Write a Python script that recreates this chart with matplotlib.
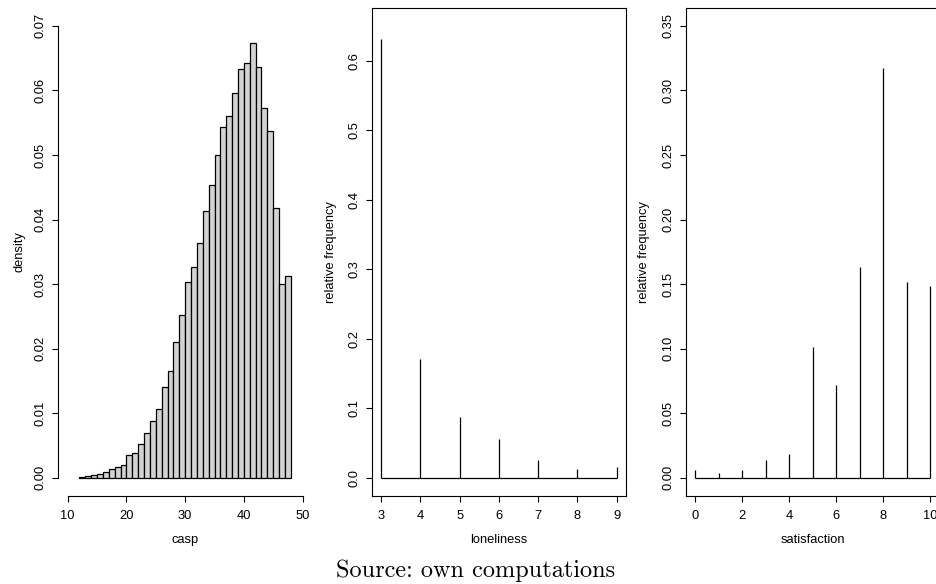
import numpy as np
import matplotlib
matplotlib.use("Agg")
from matplotlib import pyplot as plt

plt.rcParams['font.family'] = ['Liberation Sans', 'DejaVu Sans']

# casp histogram (density per unit-width bin, 12..48)
casp_edges = [12, 13, 14, 15, 16, 17, 18, 19, 20, 21, 22, 23, 24, 25, 26, 27, 28, 29, 30,
              31, 32, 33, 34, 35, 36, 37, 38, 39, 40, 41, 42, 43, 44, 45, 46, 47, 48]
casp_density = [0.0001, 0.0002, 0.0004, 0.0005, 0.0009, 0.0014, 0.0017, 0.0020, 0.0035,
                0.0038, 0.0052, 0.0069, 0.0088, 0.0106, 0.0140, 0.0166, 0.0211, 0.0252,
                0.0303, 0.0327, 0.0364, 0.0413, 0.0453, 0.0500, 0.0543, 0.0560, 0.0596,
                0.0633, 0.0642, 0.0673, 0.0637, 0.0573, 0.0537, 0.0418, 0.0300, 0.0312]

loneliness = [3, 4, 5, 6, 7, 8, 9]
lone_freq = [0.631, 0.171, 0.088, 0.055, 0.025, 0.012, 0.015]

satisfaction = [0, 1, 2, 3, 4, 5, 6, 7, 8, 9, 10]
sat_freq = [0.0057, 0.0034, 0.0057, 0.0137, 0.0181, 0.1012, 0.0717, 0.1630, 0.3177,
            0.1513, 0.1488]

W, H = 937, 584
fig = plt.figure(figsize=(W / 100, H / 100), dpi=100)

def px_axes(x0, x1, y0, y1):
    return fig.add_axes([x0 / W, 1 - y1 / H, (x1 - x0) / W, (y1 - y0) / H])

def style(ax):
    ax.tick_params(direction='out', length=4.3, width=0.8, labelsize=9.3, pad=4, colors='black')
    ax.tick_params(axis='x', pad=6)
    ax.tick_params(axis='y', labelrotation=90)
    for lab in ax.get_yticklabels():
        lab.set_va('center')
    for s in ax.spines.values():
        s.set_linewidth(0.8)

top, bot = 7.8, 495.8

# panel 1: histogram
ax1 = px_axes(58.3, 312.0, top, bot)
ax1.bar(casp_edges[:-1], casp_density, width=np.diff(casp_edges), align='edge',
        color='#d3d3d3', edgecolor='black', linewidth=0.9)
ax1.set_xlim(8.4, 51.6)
ax1.set_ylim(-0.0028, 0.0728)
ax1.set_xticks([10, 20, 30, 40, 50])
ax1.set_yticks([0.0, 0.01, 0.02, 0.03, 0.04, 0.05, 0.06, 0.07])
ax1.set_yticklabels(['0.00', '0.01', '0.02', '0.03', '0.04', '0.05', '0.06', '0.07'])
ax1.spines['top'].set_visible(False)
ax1.spines['right'].set_visible(False)
ax1.spines['left'].set_bounds(0, 0.07)
ax1.spines['bottom'].set_bounds(10, 50)
ax1.set_xlabel('casp', fontsize=9.3, labelpad=8.5)
ax1.set_ylabel('density', fontsize=9.3, labelpad=6.5)
style(ax1)

# panel 2: loneliness
ax2 = px_axes(371.7, 626.0, top, bot)
ax2.vlines(loneliness, 0, lone_freq, color='black', linewidth=0.9)
ax2.hlines(0, loneliness[0], loneliness[-1], color='black', linewidth=0.9)
ax2.set_xlim(2.76, 9.24)
ax2.set_ylim(-0.026, 0.676)
ax2.set_xticks(loneliness)
ax2.set_yticks([0.0, 0.1, 0.2, 0.3, 0.4, 0.5, 0.6])
ax2.set_yticklabels(['0.0', '0.1', '0.2', '0.3', '0.4', '0.5', '0.6'])
ax2.set_xlabel('loneliness', fontsize=9.3, labelpad=8.5)
ax2.set_ylabel('relative frequency', fontsize=9.3, labelpad=8)
style(ax2)

# panel 3: satisfaction
ax3 = px_axes(685.7, 939.4, top, bot)
ax3.vlines(satisfaction, 0, sat_freq, color='black', linewidth=0.9)
ax3.hlines(0, satisfaction[0], satisfaction[-1], color='black', linewidth=0.9)
ax3.set_xlim(-0.4, 10.4)
ax3.set_ylim(-0.014, 0.364)
ax3.set_xticks([0, 2, 4, 6, 8, 10])
ax3.set_yticks([0.0, 0.05, 0.10, 0.15, 0.20, 0.25, 0.30, 0.35])
ax3.set_yticklabels(['0.00', '0.05', '0.10', '0.15', '0.20', '0.25', '0.30', '0.35'])
ax3.set_xlabel('satisfaction', fontsize=9.3, labelpad=8.5)
ax3.set_ylabel('relative frequency', fontsize=9.3, labelpad=8.5)
style(ax3)

fig.text(476 / W, 1 - 576.5 / H, 'Source: own computations', fontname='cmr10',
         fontsize=17.5, ha='center', va='baseline')

fig.savefig('out.png', dpi=100)
